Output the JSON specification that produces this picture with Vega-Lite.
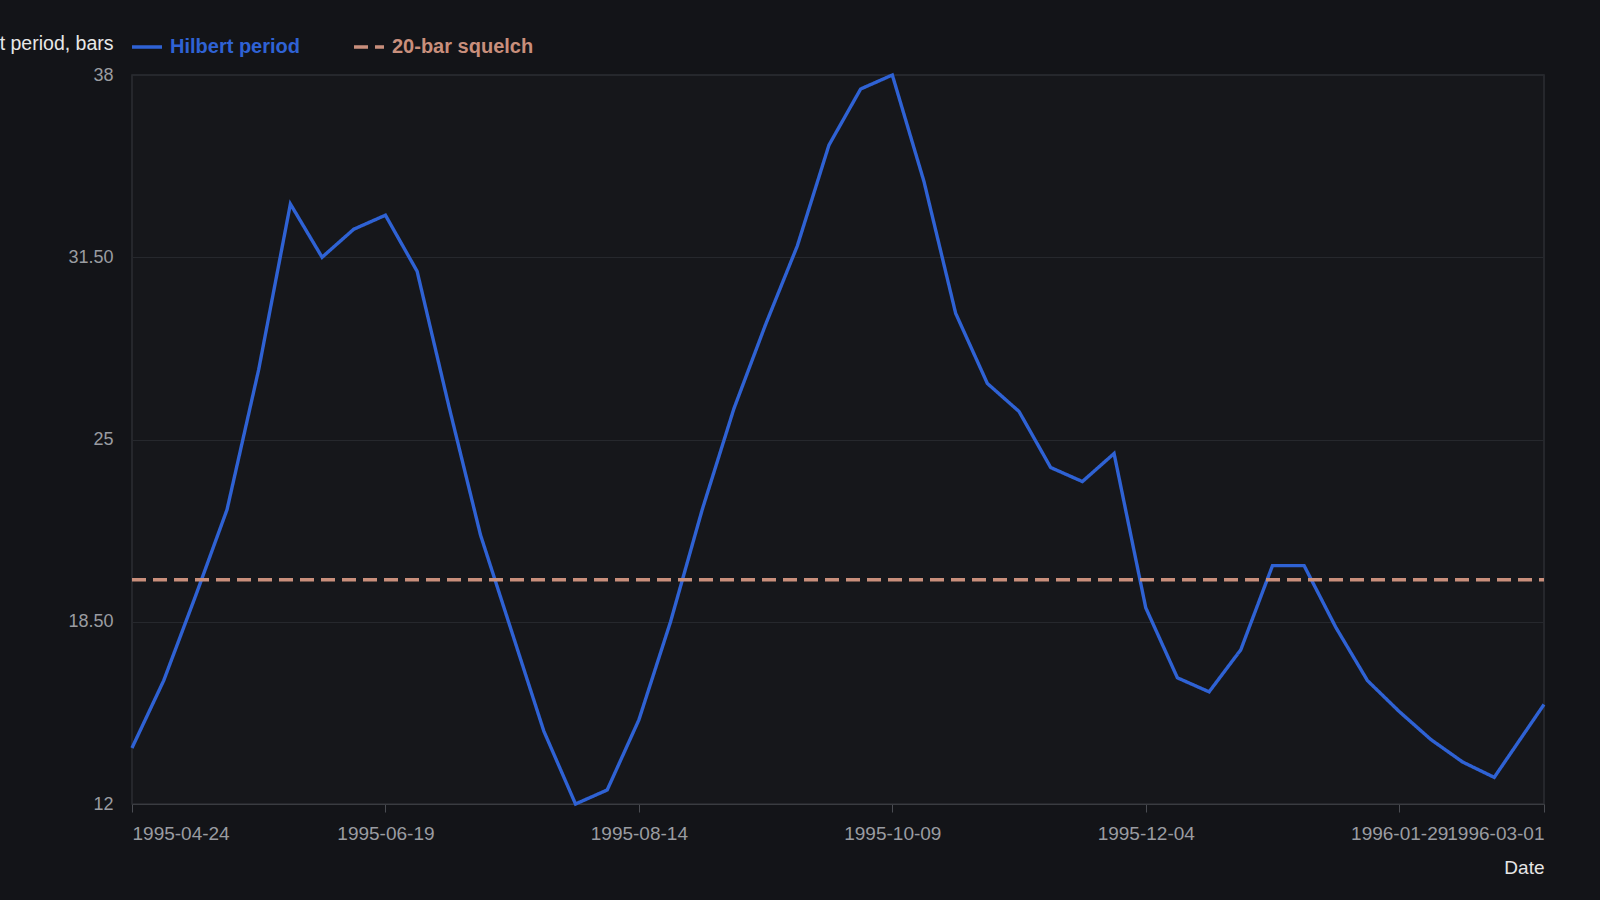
{
  "$schema": "https://vega.github.io/schema/vega-lite/v6.json",
  "autosize": {"type": "none"},
  "padding": {"left": 132, "top": 75, "right": 56, "bottom": 96},
  "width": 1412,
  "height": 729,
  "background": "#131418",
  "config": {
    "font": "Liberation Sans",
    "view": {"fill": "#16171b", "stroke": "#2c2e33", "strokeWidth": 1.5}
  },
  "data": {
    "values": [
      {"date": "1995-04-24", "value": 14.0, "series": "Hilbert period"},
      {"date": "1995-05-01", "value": 16.4, "series": "Hilbert period"},
      {"date": "1995-05-08", "value": 19.4, "series": "Hilbert period"},
      {"date": "1995-05-15", "value": 22.5, "series": "Hilbert period"},
      {"date": "1995-05-22", "value": 27.5, "series": "Hilbert period"},
      {"date": "1995-05-29", "value": 33.4, "series": "Hilbert period"},
      {"date": "1995-06-05", "value": 31.5, "series": "Hilbert period"},
      {"date": "1995-06-12", "value": 32.5, "series": "Hilbert period"},
      {"date": "1995-06-19", "value": 33.0, "series": "Hilbert period"},
      {"date": "1995-06-26", "value": 31.0, "series": "Hilbert period"},
      {"date": "1995-07-03", "value": 26.2, "series": "Hilbert period"},
      {"date": "1995-07-10", "value": 21.6, "series": "Hilbert period"},
      {"date": "1995-07-17", "value": 18.1, "series": "Hilbert period"},
      {"date": "1995-07-24", "value": 14.6, "series": "Hilbert period"},
      {"date": "1995-07-31", "value": 12.0, "series": "Hilbert period"},
      {"date": "1995-08-07", "value": 12.5, "series": "Hilbert period"},
      {"date": "1995-08-14", "value": 15.0, "series": "Hilbert period"},
      {"date": "1995-08-21", "value": 18.5, "series": "Hilbert period"},
      {"date": "1995-08-28", "value": 22.5, "series": "Hilbert period"},
      {"date": "1995-09-04", "value": 26.1, "series": "Hilbert period"},
      {"date": "1995-09-11", "value": 29.1, "series": "Hilbert period"},
      {"date": "1995-09-18", "value": 31.9, "series": "Hilbert period"},
      {"date": "1995-09-25", "value": 35.5, "series": "Hilbert period"},
      {"date": "1995-10-02", "value": 37.5, "series": "Hilbert period"},
      {"date": "1995-10-09", "value": 38.0, "series": "Hilbert period"},
      {"date": "1995-10-16", "value": 34.2, "series": "Hilbert period"},
      {"date": "1995-10-23", "value": 29.5, "series": "Hilbert period"},
      {"date": "1995-10-30", "value": 27.0, "series": "Hilbert period"},
      {"date": "1995-11-06", "value": 26.0, "series": "Hilbert period"},
      {"date": "1995-11-13", "value": 24.0, "series": "Hilbert period"},
      {"date": "1995-11-20", "value": 23.5, "series": "Hilbert period"},
      {"date": "1995-11-27", "value": 24.5, "series": "Hilbert period"},
      {"date": "1995-12-04", "value": 19.0, "series": "Hilbert period"},
      {"date": "1995-12-11", "value": 16.5, "series": "Hilbert period"},
      {"date": "1995-12-18", "value": 16.0, "series": "Hilbert period"},
      {"date": "1995-12-25", "value": 17.5, "series": "Hilbert period"},
      {"date": "1996-01-01", "value": 20.5, "series": "Hilbert period"},
      {"date": "1996-01-08", "value": 20.5, "series": "Hilbert period"},
      {"date": "1996-01-15", "value": 18.3, "series": "Hilbert period"},
      {"date": "1996-01-22", "value": 16.4, "series": "Hilbert period"},
      {"date": "1996-01-29", "value": 15.3, "series": "Hilbert period"},
      {"date": "1996-02-05", "value": 14.3, "series": "Hilbert period"},
      {"date": "1996-02-12", "value": 13.5, "series": "Hilbert period"},
      {"date": "1996-02-19", "value": 12.95, "series": "Hilbert period"},
      {"date": "1996-03-01", "value": 15.55, "series": "Hilbert period"},
      {"date": "1995-04-24", "value": 20, "series": "20-bar squelch"},
      {"date": "1996-03-01", "value": 20, "series": "20-bar squelch"}
    ]
  },
  "mark": {"type": "line", "strokeWidth": 3.4, "strokeCap": "butt"},
  "encoding": {
    "x": {
      "field": "date",
      "type": "temporal",
      "scale": {"type": "utc", "nice": false},
      "title": "Date",
      "axis": {
        "values": [
          {"year": 1995, "month": 4, "date": 24, "utc": true},
          {"year": 1995, "month": 6, "date": 19, "utc": true},
          {"year": 1995, "month": 8, "date": 14, "utc": true},
          {"year": 1995, "month": 10, "date": 9, "utc": true},
          {"year": 1995, "month": 12, "date": 4, "utc": true},
          {"year": 1996, "month": 1, "date": 29, "utc": true},
          {"year": 1996, "month": 3, "date": 1, "utc": true}
        ],
        "format": "%Y-%m-%d",
        "labelOverlap": false,
        "labelFlush": true,
        "grid": false,
        "domainColor": "#3a3c41",
        "tickColor": "#4a4c52",
        "tickSize": 8,
        "labelPadding": 12,
        "labelColor": "#9a9ca1",
        "labelFontSize": 19,
        "titleColor": "#e6e6e6",
        "titleFontSize": 19,
        "titleFontWeight": "normal",
        "titleAnchor": "end",
        "titlePadding": 15
      }
    },
    "y": {
      "field": "value",
      "type": "quantitative",
      "scale": {"domain": [12, 38], "nice": false, "zero": false},
      "title": "Hilbert period, bars",
      "axis": {
        "values": [12, 18.5, 25, 31.5, 38],
        "labelExpr": "datum.value % 1 ? format(datum.value, '.2f') : format(datum.value, 'd')",
        "ticks": false,
        "domain": false,
        "labelPadding": 19,
        "labelColor": "#9a9ca1",
        "labelFontSize": 18,
        "gridColor": "#26282d",
        "gridWidth": 1,
        "titleAngle": 0,
        "titleAlign": "right",
        "titleBaseline": "alphabetic",
        "titleX": -19,
        "titleY": -26,
        "titleColor": "#e8e8e8",
        "titleFontSize": 19.5,
        "titleFontWeight": "normal"
      }
    },
    "color": {
      "field": "series",
      "type": "nominal",
      "scale": {"domain": ["Hilbert period", "20-bar squelch"], "range": ["#2f62d4", "#c98f7c"]},
      "legend": {
        "title": null,
        "orient": "none",
        "direction": "horizontal",
        "legendX": -2,
        "legendY": -45,
        "symbolType": "stroke",
        "symbolSize": 900,
        "symbolStrokeWidth": 3.5,
        "labelFontSize": 20,
        "labelFontWeight": "bold",
        "labelOffset": 6,
        "columnPadding": 46,
        "labelLimit": 300,
        "encode": {"labels": {"update": {"fill": {"scale": "color", "field": "value"}}}}
      }
    },
    "strokeDash": {
      "field": "series",
      "type": "nominal",
      "scale": {"domain": ["Hilbert period", "20-bar squelch"], "range": [[1, 0], [14, 7]]},
      "legend": null
    }
  }
}
